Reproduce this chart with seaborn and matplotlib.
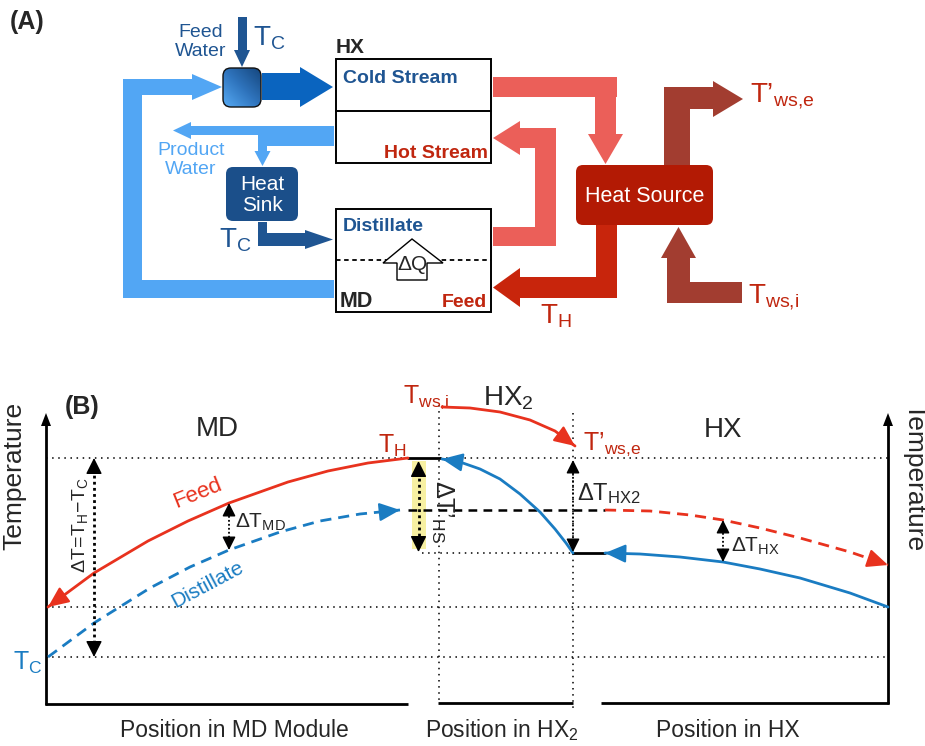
import numpy as np
import matplotlib
matplotlib.use("Agg")
import matplotlib.pyplot as plt
import seaborn as sns
from matplotlib.patches import Rectangle, Polygon, FancyBboxPatch
from matplotlib.colors import LinearSegmentedColormap

sns.set_theme(style="white")
plt.rcParams["font.family"] = ["Liberation Sans", "DejaVu Sans"]
plt.rcParams["mathtext.fontset"] = "custom"
plt.rcParams["mathtext.rm"] = "Liberation Sans"
plt.rcParams["mathtext.it"] = "Liberation Sans:italic"
plt.rcParams["mathtext.bf"] = "Liberation Sans:bold"

# ---- temperature profiles (canvas units: x to the right, y downward) ----
# MD module: feed cools from T_H toward the inlet, distillate warms from T_C
md_feed_x = [408, 368, 328, 288, 229, 188, 148, 94, 48]
md_feed_y = [458, 463, 471, 482, 503, 521, 541, 573, 607]
md_dist_x = [48, 94, 150, 190, 229, 280, 320, 360, 400]
md_dist_y = [657, 623, 588, 567, 550, 532, 521, 514, 510]
# HX2: waste-heat stream and the feed it heats
hx2_ws_x = [442, 470, 500, 530, 555, 575]
hx2_ws_y = [407, 408, 412, 420, 431, 446]
hx2_feed_x = [573, 566, 555, 540, 520, 500, 480, 460, 442]
hx2_feed_y = [553, 543, 529, 512, 494, 479, 469, 462, 459]
# HX: cold stream heated by the distillate leaving the module
hx_cold_x = [888, 850, 800, 760, 723, 680, 640, 605]
hx_cold_y = [607, 593, 578, 569, 562, 557, 554, 553]
hx_hot_x = [605, 650, 690, 723, 760, 800, 850, 888]
hx_hot_y = [510, 511, 515, 520, 528, 538, 552, 565]

# reference temperature levels and section boundaries
level_TH, level_mid, level_TC = 458, 607, 657
level_dist, level_hx2_low = 510, 553

DARK_BLUE = "#1f5592"
MID_BLUE = "#0a64bf"
LIGHT_BLUE = "#52a6f4"
CORAL = "#eb5f59"
SOURCE_RED = "#b31a04"
FEED_RED = "#c8250c"
BROWN = "#a23d30"
TEXT_RED = "#c0260f"
CURVE_RED = "#e8321e"
CURVE_BLUE = "#1a7cc2"


def sub(main, s):
    return r"$\mathregular{" + main + "_{" + s + "}}$"


fig = plt.figure(figsize=(9.25, 7.46), dpi=100)
ax = fig.add_axes([0, 0, 1, 1])
ax.axis("off")


def rect(x0, y0, x1, y1, color, z=2):
    ax.add_patch(Rectangle((x0, y0), x1 - x0, y1 - y0, facecolor=color,
                           edgecolor="none", zorder=z))


def tri(pts, color, z=2):
    ax.add_patch(Polygon(pts, closed=True, facecolor=color, edgecolor="none", zorder=z))


# ======================= (A) process schematic =======================
ax.text(10, 22, "(A)", fontsize=18, fontweight="bold", va="center", ha="left")

# feed water entering the mixer
rect(237.5, 17, 246.5, 51, DARK_BLUE)
tri([(234, 50), (250, 50), (242, 67)], DARK_BLUE)
ax.text(201, 42, "Feed\nWater", ha="center", va="center", fontsize=14,
        color=DARK_BLUE, linespacing=1.1)
ax.text(253, 45, sub("T", "C"), fontsize=20, color=DARK_BLUE, va="baseline")

# mixer with gradient fill
n = 64
gi, gj = np.mgrid[0:n, 0:n] / (n - 1)
grad = (gj + (1 - gi)) / 2
cmap = LinearSegmentedColormap.from_list("mix", ["#56aaf4", "#2f74bd", "#15467d"])
mixer = FancyBboxPatch((223, 68), 38, 39, boxstyle="round,pad=0,rounding_size=8",
                       facecolor="none", edgecolor="#111111", lw=1.0, zorder=4)
ax.add_patch(mixer)
im = ax.imshow(grad, cmap=cmap, extent=(223, 261, 107, 68), origin="upper",
               aspect="auto", zorder=3)
im.set_clip_path(mixer)

# mixer -> HX cold stream
rect(262, 73, 301, 100, MID_BLUE)
tri([(300, 67), (300, 107), (333, 87)], MID_BLUE)

# recycled distillate loop
rect(123, 280, 334, 298, LIGHT_BLUE)
rect(123, 79, 142, 298, LIGHT_BLUE)
rect(123, 79, 193, 95, LIGHT_BLUE)
tri([(192, 74), (192, 100), (222, 87)], LIGHT_BLUE)

# product water split
rect(258, 126, 334, 146, LIGHT_BLUE)
rect(190, 126, 267, 135, LIGHT_BLUE)
tri([(191, 122), (191, 139), (173, 130.5)], LIGHT_BLUE)
rect(258, 134, 267, 152, LIGHT_BLUE)
tri([(254.5, 151), (270.5, 151), (262.5, 166)], LIGHT_BLUE)
ax.text(191, 160, "Product\nWater", ha="center", va="center", fontsize=14,
        color=LIGHT_BLUE, linespacing=1.1)

# heat sink and its outlet
ax.add_patch(FancyBboxPatch((226, 167), 72, 54, boxstyle="round,pad=0,rounding_size=7",
                            facecolor="#1b4f8a", edgecolor="none", zorder=3))
ax.text(262, 195, "Heat\nSink", ha="center", va="center", fontsize=15,
        color="white", linespacing=1.15, zorder=4)
rect(258, 222, 267, 246, DARK_BLUE)
rect(258, 233, 306, 246, DARK_BLUE)
tri([(305, 230), (305, 249), (333, 239.5)], DARK_BLUE)
ax.text(219, 248, sub("T", "C"), fontsize=20, color=DARK_BLUE, va="baseline")

# HX and MD boxes
ax.add_patch(Rectangle((336, 59), 155, 104, facecolor="white", edgecolor="black",
                       lw=1.4, zorder=3))
ax.plot([336, 491], [111, 111], color="black", lw=1.4, zorder=4)
ax.text(336, 53, "HX", fontsize=15, fontweight="bold", va="baseline")
ax.text(343, 83, "Cold Stream", fontsize=14, fontweight="bold", color=DARK_BLUE,
        va="baseline", zorder=5)
ax.text(488, 158, "Hot Stream", fontsize=14, fontweight="bold", color=TEXT_RED,
        va="baseline", ha="right", zorder=5)

ax.add_patch(Rectangle((336, 209), 155, 103, facecolor="white", edgecolor="black",
                       lw=1.4, zorder=3))
ax.plot([336, 491], [260, 260], color="black", lw=1.3, ls=(0, (2.5, 2)), zorder=4)
ax.text(343, 231, "Distillate", fontsize=14, fontweight="bold", color=DARK_BLUE,
        va="baseline", zorder=5)
ax.text(340, 307, "MD", fontsize=15.5, fontweight="bold", va="baseline", zorder=5)
ax.text(487, 307, "Feed", fontsize=14, fontweight="bold", color=TEXT_RED,
        va="baseline", ha="right", zorder=5)
ax.add_patch(Polygon([(412, 239), (443, 263), (427, 263), (427, 280), (397, 280),
                      (397, 263), (383, 263)], closed=True, facecolor="white",
                     edgecolor="black", lw=1.0, zorder=5))
ax.text(412, 264, "ΔQ", fontsize=15, ha="center", va="center", zorder=6)

# hot-side loop
rect(493, 77, 617, 97, CORAL)
rect(595, 77, 616, 135, CORAL)
tri([(588, 134), (623, 134), (605.5, 164)], CORAL)
rect(519, 128, 556, 148, CORAL)
rect(535, 128, 556, 246, CORAL)
rect(493, 227, 556, 246, CORAL)
tri([(520, 121), (520, 155), (493, 138)], CORAL)

# heated feed leaving the heat source
rect(596, 224, 617, 298, FEED_RED)
rect(519, 277, 617, 298, FEED_RED)
tri([(520, 268), (520, 307), (493, 287.5)], FEED_RED)
ax.text(540, 324, sub("T", "H"), fontsize=20, color=TEXT_RED, va="baseline")

# waste-heat stream
rect(664, 87, 690, 166, BROWN)
rect(664, 87, 714, 109, BROWN)
tri([(713, 81), (713, 117), (743, 99)], BROWN)
rect(667, 282, 742, 303, BROWN)
rect(667, 256, 690, 303, BROWN)
tri([(661, 258), (696, 258), (678.5, 227)], BROWN)
ax.text(750, 102, sub("T’", "ws{,}e"), fontsize=20, color=TEXT_RED, va="baseline")
ax.text(748, 303, sub("T", "ws{,}i"), fontsize=20, color=TEXT_RED, va="baseline")

ax.add_patch(FancyBboxPatch((576, 165), 137, 60, boxstyle="round,pad=0,rounding_size=7",
                            facecolor=SOURCE_RED, edgecolor="none", zorder=4))
ax.text(645, 196, "Heat Source", fontsize=15.5, color="white", ha="center",
        va="center", zorder=5)

# ======================= (B) temperature profiles =======================
ax.text(65, 407, "(B)", fontsize=18, fontweight="bold", va="center", ha="left")

DOT = (0, (1, 3))
dl = dict(color="black", lw=1.1, ls=DOT, zorder=1)
ax.plot([46, 408], [level_TH, level_TH], **dl)
ax.plot([440, 888], [level_TH, level_TH], **dl)
ax.plot([46, 888], [level_mid, level_mid], **dl)
ax.plot([46, 888], [level_TC, level_TC], **dl)
ax.plot([422, 573], [level_hx2_low, level_hx2_low], **dl)
ax.plot([439, 439], [405, 703], **dl)
ax.plot([573, 573], [413, 708], **dl)

# axes
AX = dict(color="black", lw=2.0, solid_capstyle="butt", zorder=3)
ax.plot([46, 46], [705, 424], **AX)
tri([(41, 426), (51, 426), (46, 413)], "black")
ax.plot([45, 408], [704, 704], **AX)
ax.plot([438, 573], [703, 703], **AX)
ax.plot([601, 889], [703, 703], **AX)
ax.plot([888, 888], [704, 424], **AX)
tri([(883, 426), (893, 426), (888, 413)], "black")

# short connecting segments
ax.plot([408, 440], [level_TH, level_TH], color="black", lw=2.0, zorder=3)
ax.plot([573, 605], [level_hx2_low, level_hx2_low], color="black", lw=2.0, zorder=3)
ax.plot([408, 605], [level_dist, level_dist], color="black", lw=1.8,
        ls=(0, (3.5, 2.5)), zorder=2)

# yellow band for the heat-source temperature lift
rect(412, 461, 426, 549, "#f7f0a2", z=1)


def curve(xs, ys, color, dashed=False):
    kw = dict(ls=(0, (4, 2.5))) if dashed else {}
    sns.lineplot(x=xs, y=ys, sort=False, estimator=None, ax=ax, color=color,
                 lw=2.0, zorder=4, **kw)
    x1, y1, x0, y0 = xs[-1], ys[-1], xs[-2], ys[-2]
    d = np.hypot(x1 - x0, y1 - y0)
    ux, uy = (x1 - x0) / d, (y1 - y0) / d
    ax.annotate("", xy=(x1, y1), xytext=(x1 - ux * 10, y1 - uy * 10),
                arrowprops=dict(arrowstyle="-|>,head_length=0.9,head_width=0.4",
                                color=color, lw=1.6, shrinkA=0, shrinkB=0,
                                mutation_scale=14), zorder=5)


curve(md_feed_x, md_feed_y, CURVE_RED)
curve(md_dist_x, md_dist_y, CURVE_BLUE, dashed=True)
curve(hx2_ws_x, hx2_ws_y, CURVE_RED)
curve(hx2_feed_x, hx2_feed_y, CURVE_BLUE)
curve(hx_cold_x, hx_cold_y, CURVE_BLUE)
curve(hx_hot_x, hx_hot_y, CURVE_RED, dashed=True)


def span(x, y_top, y_bot, lw=1.3, size=9):
    ax.plot([x, x], [y_top + 5, y_bot - 5], color="black", lw=lw,
            ls=(0, (1, 1.2)), zorder=5)
    for tip, base in ((y_top, y_top + 8), (y_bot, y_bot - 8)):
        ax.annotate("", xy=(x, tip), xytext=(x, base),
                    arrowprops=dict(arrowstyle="-|>,head_length=0.9,head_width=0.45",
                                    color="black", lw=1.0, shrinkA=0, shrinkB=0,
                                    mutation_scale=size), zorder=6)


span(94, level_TH, level_TC, lw=2.0, size=11)
span(229, 503, 550)
span(418.5, 461, 552, lw=2.0, size=11)
span(573, 460, 552)
span(723, 520, 562)

# labels
ax.text(14.5, 476, "Temperature", rotation=90, ha="center", va="center", fontsize=19)
ax.text(914, 477, "Temperature", rotation=270, ha="center", va="center", fontsize=19)
ax.text(217, 436, "MD", fontsize=20, ha="center", va="baseline")
ax.text(723, 437, "HX", fontsize=20, ha="center", va="baseline")
ax.text(483, 405, r"$\mathregular{HX_2}$", fontsize=20, ha="left", va="baseline")

ax.text(378, 453, sub("T", "H"), fontsize=18, color=TEXT_RED, va="baseline")
ax.text(403, 403, sub("T", "ws{,}i"), fontsize=18, color=TEXT_RED, va="baseline")
ax.text(583, 450, sub("T’", "ws{,}e"), fontsize=18, color=TEXT_RED, va="baseline")
ax.text(13, 670, sub("T", "C"), fontsize=18, color=CURVE_BLUE, va="baseline")

ax.text(80, 525, r"$\mathregular{\Delta T\!=\!T_{H}\!-\!T_{C}}$", rotation=90,
        ha="center", va="center", fontsize=14)
ax.text(235, 528, sub("ΔT", "MD"), fontsize=15, va="baseline")
ax.text(577, 500, sub("ΔT", "HX2"), fontsize=17, va="baseline")
ax.text(731, 552, sub("ΔT", "HX"), fontsize=15, va="baseline")
ax.text(442, 512, sub("ΔT’", "HS"), rotation=270, ha="center", va="center",
        fontsize=18)

ax.text(198, 493, "Feed", rotation=22, ha="center", va="center", fontsize=16,
        color=CURVE_RED)
ax.text(208, 585, "Distillate", rotation=28, ha="center", va="center", fontsize=15,
        color=CURVE_BLUE)

ax.text(234, 737, "Position in MD Module", fontsize=16.5, ha="center", va="baseline")
ax.text(502, 737, r"Position in $\mathregular{HX_2}$", fontsize=16.5, ha="center",
        va="baseline")
ax.text(728, 737, "Position in HX", fontsize=16.5, ha="center", va="baseline")

ax.set_xlim(0, 925)
ax.set_ylim(746, 0)
fig.savefig("out.png", dpi=100)
